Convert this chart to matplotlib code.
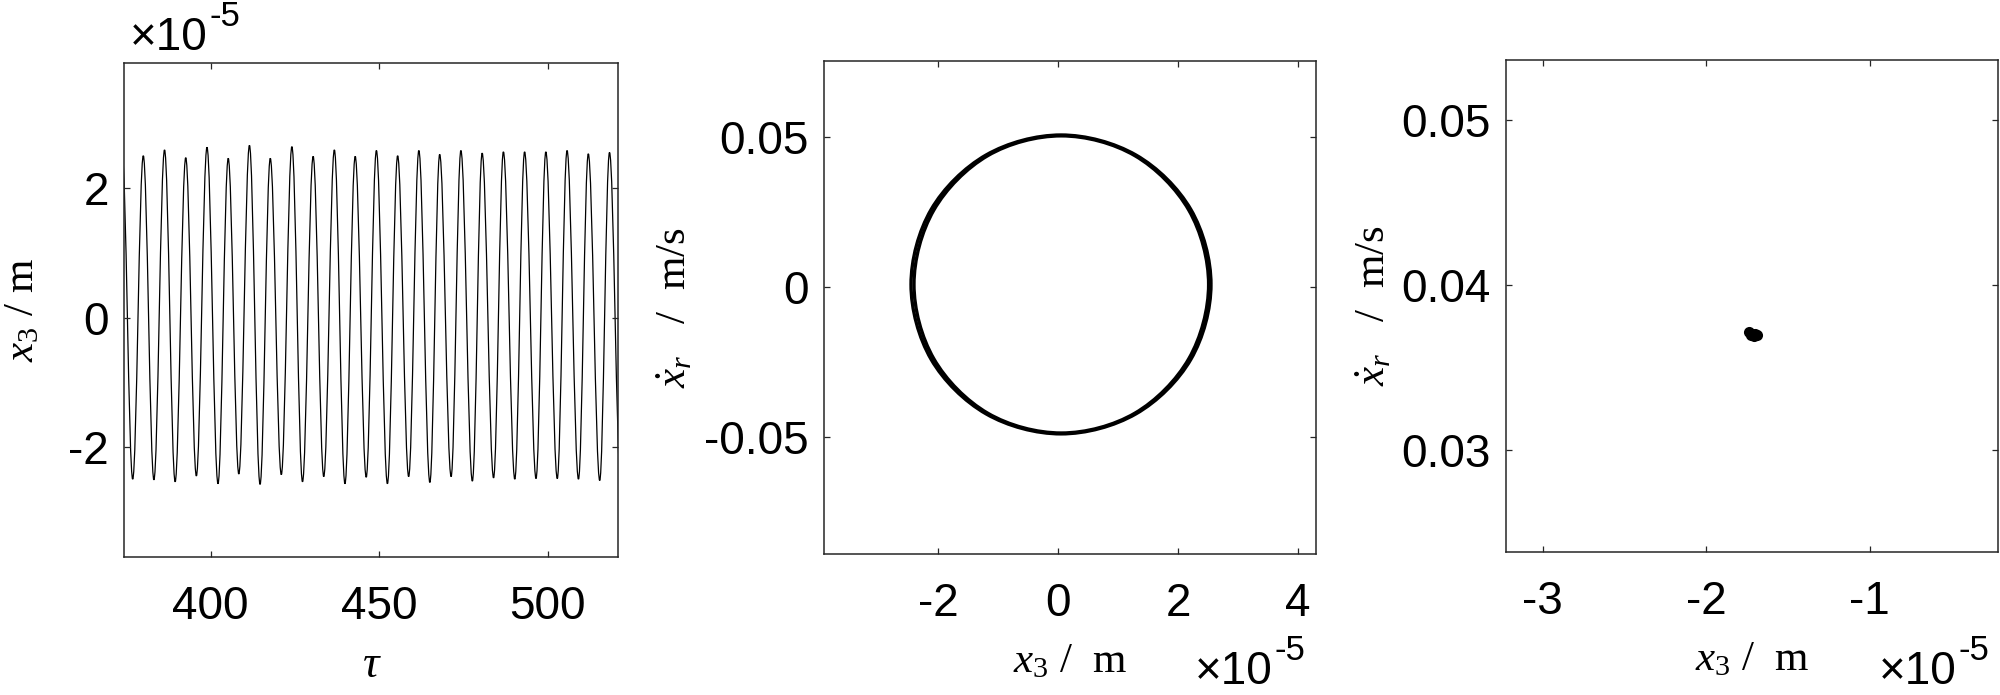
import numpy as np
import matplotlib
matplotlib.use("Agg")
import matplotlib.pyplot as plt
from matplotlib.path import Path
from matplotlib.patches import PathPatch
from matplotlib.ticker import FixedLocator, FuncFormatter

plt.rcParams['axes.unicode_minus'] = False
plt.rcParams['mathtext.fontset'] = 'custom'
plt.rcParams['mathtext.rm'] = 'Liberation Serif'
plt.rcParams['mathtext.it'] = 'Liberation Serif:italic'
plt.rcParams['mathtext.bf'] = 'Liberation Serif:bold'
plt.rcParams['font.family'] = ['Liberation Sans', 'DejaVu Sans']

# ---------------- data (x3 in units of 1e-5 m) ----------------
SCALE = 1e-5
# panel 1: time history extrema
peak_tau = [373.72, 380.02, 386.32, 392.61, 398.91, 405.21, 411.50, 417.68, 424.09,
            430.39, 436.68, 442.86, 449.15, 455.45, 461.74, 467.92, 474.21, 480.51,
            486.81, 493.10, 499.40, 505.69, 511.99, 518.28]
peak_x3 = [2.55, 2.50, 2.59, 2.47, 2.63, 2.46, 2.66, 2.46, 2.64, 2.49, 2.59, 2.49,
           2.58, 2.50, 2.58, 2.52, 2.58, 2.54, 2.56, 2.56, 2.56, 2.58, 2.53, 2.55]
trough_tau = [376.88, 383.17, 389.47, 395.76, 402.18, 408.35, 414.65, 420.95, 427.24,
              433.54, 439.83, 446.13, 452.42, 458.72, 465.01, 471.31, 477.61, 483.90,
              490.20, 496.49, 502.79, 509.08, 515.38, 521.58]
trough_x3 = [-2.49, -2.50, -2.53, -2.44, -2.56, -2.41, -2.57, -2.42, -2.53, -2.45,
             -2.56, -2.46, -2.56, -2.45, -2.54, -2.45, -2.52, -2.47, -2.49, -2.48,
             -2.48, -2.49, -2.51, -2.50]

# panel 2: phase portrait (two traced loops)
loop1_x3 = [2.51, 2.18, 1.28, 0.055, -1.17, -2.07, -2.40, -2.07, -1.17, 0.055, 1.28, 2.18]
loop1_v = [0.0009, 0.0257, 0.0439, 0.0505, 0.0439, 0.0257, 0.0009, -0.0239, -0.0421,
           -0.0487, -0.0421, -0.0239]
loop2_x3 = [2.55, 2.215, 1.30, 0.05, -1.20, -2.115, -2.45, -2.115, -1.20, 0.05, 1.30, 2.215]
loop2_v = [0.0009, 0.0259, 0.0441, 0.0508, 0.0441, 0.0259, 0.0009, -0.0241, -0.0423,
           -0.0490, -0.0423, -0.0241]

# panel 3: Poincare section points
poin_x3 = [-1.735, -1.72, -1.70, -1.69, -1.705, -1.725]
poin_v = [0.03715, 0.03700, 0.03705, 0.03695, 0.03690, 0.03695]

# axis settings
p1_xticks = [400, 450, 500]
p1_yticks = [-2, 0, 2]
p2_xticks = [-2, 0, 2, 4]
p2_yticks = [-0.05, 0, 0.05]
p3_xticks = [-3, -2, -1]
p3_yticks = [0.03, 0.04, 0.05]

# ---------------- figure ----------------
W, H = 2000, 695
fig = plt.figure(figsize=(W / 100, H / 100), dpi=100)

def box(l, t, r, b):
    return [l / W, (H - b) / H, (r - l) / W, (b - t) / H]

ax1 = fig.add_axes(box(124, 63, 618, 557))
ax2 = fig.add_axes(box(824, 61, 1316, 554))
ax3 = fig.add_axes(box(1506, 60, 1998, 552))

AXC = '#262626'
TICKFS = 33
LABFS = 31
SERIF = 'Liberation Serif'

def style(ax):
    for s in ax.spines.values():
        s.set_color(AXC)
        s.set_linewidth(1.1)
    ax.tick_params(direction='in', length=4.5, width=0.9, color=AXC,
                   top=True, right=True, labelsize=TICKFS, labelcolor='black')
    ax.tick_params(axis='x', pad=20)
    ax.tick_params(axis='y', pad=11)

def fmt_g(v, pos):
    return '%g' % v

def fmt_scaled(v, pos):
    return '%g' % round(v / SCALE, 6)

def smooth_extrema(ts, vs, k=0.3634):
    verts = [(ts[0], vs[0])]
    codes = [Path.MOVETO]
    for i in range(len(ts) - 1):
        t0, v0, t1, v1 = ts[i], vs[i], ts[i + 1], vs[i + 1]
        dt = t1 - t0
        verts += [(t0 + k * dt, v0), (t1 - k * dt, v1), (t1, v1)]
        codes += [Path.CURVE4] * 3
    return Path(verts, codes)

def closed_spline(xs, ys):
    pts = np.column_stack([xs, ys])
    n = len(pts)
    verts = [tuple(pts[0])]
    codes = [Path.MOVETO]
    for i in range(n):
        p0 = pts[(i - 1) % n]
        p1 = pts[i]
        p2 = pts[(i + 1) % n]
        p3 = pts[(i + 2) % n]
        c1 = p1 + (p2 - p0) / 6.0
        c2 = p2 - (p3 - p1) / 6.0
        verts += [tuple(c1), tuple(c2), tuple(p2)]
        codes += [Path.CURVE4] * 3
    return Path(verts, codes)

X3_LABEL = r'$x_{\mathit{3}}$ /  m'
XR_LABEL = r'$\dot{x}_{r}$   /  m/s'

# ---- panel 1 ----
ext = sorted(list(zip(peak_tau, peak_x3)) + list(zip(trough_tau, trough_x3)))
ts = [e[0] for e in ext]
vs = [e[1] * SCALE for e in ext]
ax1.add_patch(PathPatch(smooth_extrema(ts, vs), fill=False, edgecolor='black', lw=0.9))
ax1.set_xlim(374.3, 520.8)
ax1.set_ylim(-3.69 * SCALE, 3.93 * SCALE)
ax1.xaxis.set_major_locator(FixedLocator(p1_xticks))
ax1.yaxis.set_major_locator(FixedLocator([v * SCALE for v in p1_yticks]))
ax1.xaxis.set_major_formatter(FuncFormatter(fmt_g))
ax1.yaxis.set_major_formatter(FuncFormatter(fmt_scaled))
style(ax1)
ax1.set_xlabel('τ', family=SERIF, style='italic', fontsize=LABFS + 2)
ax1.set_ylabel(r'$x_{\mathit{3}}$ / m', family=SERIF, fontsize=LABFS)

# ---- panel 2 ----
for lx, lv in ((loop1_x3, loop1_v), (loop2_x3, loop2_v)):
    ax2.add_patch(PathPatch(closed_spline([x * SCALE for x in lx], lv), fill=False,
                            edgecolor='black', lw=2.4))
ax2.set_xlim(-3.90 * SCALE, 4.30 * SCALE)
ax2.set_ylim(-0.0891, 0.0755)
ax2.xaxis.set_major_locator(FixedLocator([v * SCALE for v in p2_xticks]))
ax2.yaxis.set_major_locator(FixedLocator(p2_yticks))
ax2.xaxis.set_major_formatter(FuncFormatter(fmt_scaled))
ax2.yaxis.set_major_formatter(FuncFormatter(fmt_g))
style(ax2)
ax2.set_xlabel(X3_LABEL, family=SERIF, fontsize=LABFS)
ax2.set_ylabel(XR_LABEL, family=SERIF, fontsize=LABFS)

# ---- panel 3 ----
ax3.plot([x * SCALE for x in poin_x3], poin_v, 'o', color='black', markersize=8,
         markeredgewidth=0, linestyle='none')
ax3.set_xlim(-3.225 * SCALE, -0.214 * SCALE)
ax3.set_ylim(0.02382, 0.05362)
ax3.xaxis.set_major_locator(FixedLocator([v * SCALE for v in p3_xticks]))
ax3.yaxis.set_major_locator(FixedLocator(p3_yticks))
ax3.xaxis.set_major_formatter(FuncFormatter(fmt_scaled))
ax3.yaxis.set_major_formatter(FuncFormatter(fmt_g))
style(ax3)
ax3.set_xlabel(X3_LABEL, family=SERIF, fontsize=LABFS)
ax3.set_ylabel(XR_LABEL, family=SERIF, fontsize=LABFS)

# label placement (axes fractions)
def place_labels(ax, xl_y, yl_x):
    ax.xaxis.set_label_coords(0.5, xl_y)
    ax.xaxis.label.set_va('baseline')
    ax.yaxis.set_label_coords(yl_x, 0.5)
    ax.yaxis.label.set_va('baseline')

place_labels(ax1, -0.243, -0.184)
place_labels(ax2, -0.239, -0.28)
place_labels(ax3, -0.24, -0.246)

# offset texts "x10^-5"
off_texts = []
def add_offset(ax, xf, yf):
    t = ax.text(xf, yf, '×10', transform=ax.transAxes, fontsize=TICKFS,
                ha='left', va='baseline', color='black')
    off_texts.append((ax, t, xf, yf))

add_offset(ax1, 0.012, 1.026)
add_offset(ax2, 0.754, -0.2637)
add_offset(ax3, 0.758, -0.268)

fig.canvas.draw()
r = fig.canvas.get_renderer()
for ax, t, xf, yf in off_texts:
    bb = t.get_window_extent(renderer=r)
    bx, by = ax.transAxes.transform((xf, yf))
    fig.text((bb.x1 + 2) / W, (by + 24) / H, '-5', fontsize=25,
             ha='left', va='baseline', color='black')

fig.savefig('out.png', dpi=100)
